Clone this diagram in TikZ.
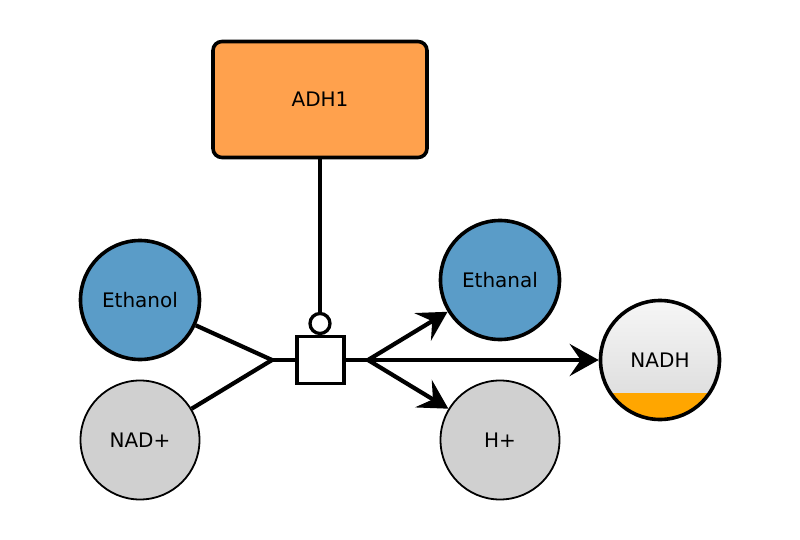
\documentclass[tikz,border=0pt]{standalone}
\usepackage{fontspec}
\setmainfont{DejaVu Sans}
\usetikzlibrary{shapes,arrows.meta}
\definecolor{enzorange}{RGB}{255,161,77}
\definecolor{metblue}{RGB}{90,156,200}
\definecolor{metgray}{RGB}{208,208,208}
\definecolor{nadhorange}{RGB}{255,166,0}

\begin{document}
\begin{tikzpicture}[x=1pt,y=-1pt]
	\tikzstyle{every node}+=[inner sep=0pt, font=\fontsize{20}{24}\selectfont]
	\tikzstyle{species}=[circle, draw=black, minimum size=119pt]
	\tikzstyle{main}=[species, line width=3.6pt, fill=metblue]
	\tikzstyle{side}=[species, line width=1.8pt, fill=metgray]
	\tikzstyle{link}=[line width=4.2pt, black]
	\tikzstyle{prod}=[link, -{Stealth[length=29pt, width=32pt, inset=11pt]}]
	\useasboundingbox (0,0) rectangle (800,540);
	% enzyme
	\node [draw, rounded corners=9pt, line width=3.6pt, fill=enzorange,
		minimum width=214pt, minimum height=116pt] (adh) at (320,99.5) {ADH1};
	% species
	\node [main] (ethanol) at (140,300) {Ethanol};
	\node [side] (nad) at (140,440) {NAD+};
	\node [main] (ethanal) at (500,280) {Ethanal};
	\node [side] (hplus) at (500,440) {H+};
	\node [species, line width=3.6pt,
		path picture={
			\shade [top color=gray!7, bottom color=gray!30]
				(path picture bounding box.south west) rectangle (path picture bounding box.north east);
			\fill [nadhorange]
				(path picture bounding box.south west) rectangle ([yshift=27pt]path picture bounding box.south east);
		}] (nadh) at (660,360) {NADH};
	% process
	\node [draw, rectangle, line width=3.3pt, fill=white, minimum size=47pt] (proc) at (320.5,360) {};
	\node [draw, circle, line width=3.3pt, fill=white, minimum size=20pt] (cat) at (320,323.5) {};
	\coordinate (in) at (272,360);
	\coordinate (out) at (368,360);
	\draw [line width=4pt] (adh) -- (cat);
	\draw [link] (ethanol) -- (in);
	\draw [link] (nad) -- (in);
	\draw [link] (in) -- (proc);
	\draw [link] (proc) -- (out);
	\draw [prod] (out) -- (ethanal);
	\draw [prod] (out) -- (hplus);
	\draw [prod] (out) -- (nadh);
\end{tikzpicture}
\end{document}
